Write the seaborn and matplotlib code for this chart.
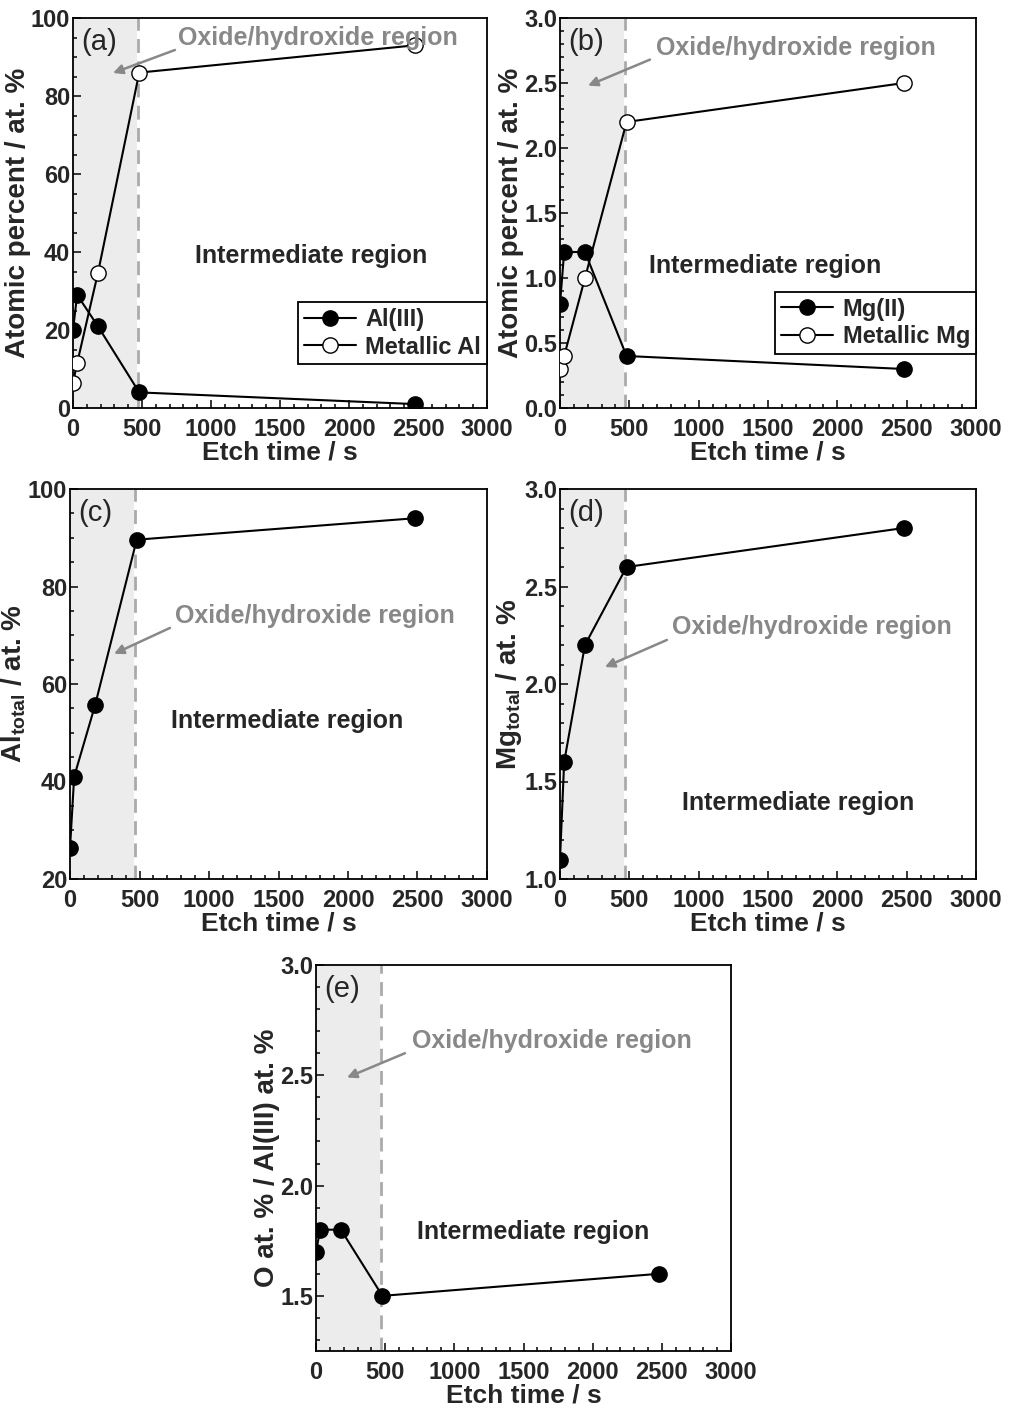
import matplotlib
matplotlib.use('Agg')
import matplotlib.pyplot as plt
import seaborn as sns
from matplotlib.ticker import MultipleLocator

sns.set_style('ticks')
plt.rcParams['font.family'] = ['Liberation Sans', 'DejaVu Sans']
plt.rcParams['mathtext.fontset'] = 'custom'
plt.rcParams['mathtext.rm'] = 'Liberation Sans:bold'
plt.rcParams['mathtext.it'] = 'Liberation Sans:bold'
plt.rcParams['mathtext.bf'] = 'Liberation Sans:bold'

# データ
etch_time = [0, 30, 180, 480, 2480]
al_iii = [20, 29, 21, 4, 1]
al_metal = [6.5, 11.5, 34.5, 86, 93]
mg_ii = [0.8, 1.2, 1.2, 0.4, 0.3]
mg_metal = [0.3, 0.4, 1.0, 2.2, 2.5]
al_total = [26.3, 41, 55.6, 89.6, 94]
mg_total = [1.1, 1.6, 2.2, 2.6, 2.8]
o_al_ratio = [1.7, 1.8, 1.8, 1.5, 1.6]

W, H = 1009, 1418
fig = plt.figure(figsize=(W / 100, H / 100), dpi=100)


def make_ax(x0, y0, x1, y1):
    return fig.add_axes([x0 / W, 1 - y1 / H, (x1 - x0) / W, (y1 - y0) / H])


def style_ax(ax, ylim, ymaj, ymin, ylabel, tag):
    ax.set_xlim(0, 3000)
    ax.set_ylim(*ylim)
    ax.axvspan(0, 462, color='#ececec', zorder=0, lw=0)
    ax.axvline(470, color='#aaaaaa', lw=2, ls=(0, (5, 3)), zorder=1)
    ax.xaxis.set_major_locator(MultipleLocator(500))
    ax.xaxis.set_minor_locator(MultipleLocator(100))
    ax.yaxis.set_major_locator(MultipleLocator(ymaj))
    ax.yaxis.set_minor_locator(MultipleLocator(ymin))
    ax.tick_params(which='both', direction='in', top=False, right=False,
                   labelsize=17, width=1.3)
    ax.tick_params(which='major', length=6)
    ax.tick_params(axis='x', which='major', pad=7)
    ax.tick_params(axis='y', which='major', pad=2)
    ax.tick_params(which='minor', length=3)
    for lab in ax.get_xticklabels() + ax.get_yticklabels():
        lab.set_fontweight('bold')
    for s in ax.spines.values():
        s.set_linewidth(1.3)
        s.set_color('black')
    ax.set_xlabel('Etch time / s', fontsize=19, fontweight='bold', labelpad=0)
    ax.set_ylabel(ylabel, fontsize=20, fontweight='bold', labelpad=0)
    ax.text(0.02, 0.975, tag, transform=ax.transAxes, fontsize=21,
            va='top', ha='left')


def series(ax, y, filled=True, label=None):
    sns.lineplot(x=etch_time, y=y, ax=ax, color='black', lw=1.5,
                 marker='o', markersize=11, mec='black',
                 mfc='black' if filled else 'white', mew=1,
                 label=label, legend=False, zorder=3)


def notes(ax, txt_xy, start_xy, tip_xy, mid_xy):
    ax.annotate('', xy=tip_xy, xytext=start_xy,
                arrowprops=dict(arrowstyle='-|>', color='#888888', lw=1.8,
                                shrinkA=0, shrinkB=0, mutation_scale=14))
    ax.text(*txt_xy, 'Oxide/hydroxide region', color='#888888', fontsize=18,
            fontweight='bold', va='center', ha='left')
    ax.text(*mid_xy, 'Intermediate region', fontsize=18, fontweight='bold',
            ha='center', va='center')


def legend(ax, top):
    leg = ax.legend(loc='upper right', bbox_to_anchor=(1.0, top),
                    borderaxespad=0, fancybox=False, edgecolor='black',
                    framealpha=1, handlelength=2.2, handletextpad=0.4,
                    prop={'weight': 'bold', 'size': 17}, borderpad=0.25,
                    labelspacing=0.2)
    leg.get_frame().set_linewidth(1.3)


# (a)
ax = make_ax(73, 18, 487, 408)
style_ax(ax, (0, 100), 20, 5, 'Atomic percent / at. %', '(a)')
series(ax, al_iii, True, 'Al(III)')
series(ax, al_metal, False, 'Metallic Al')
notes(ax, (760, 95), (739, 91.8), (290, 85.9), (1725, 39))
legend(ax, 0.272)

# (b)
ax = make_ax(560, 18, 976, 408)
style_ax(ax, (0, 3.0), 0.5, 0.1, 'Atomic percent / at. %', '(b)')
series(ax, mg_ii, True, 'Mg(II)')
series(ax, mg_metal, False, 'Metallic Mg')
notes(ax, (692, 2.77), (649, 2.68), (202, 2.48), (1480, 1.09))
legend(ax, 0.298)

# (c)
ax = make_ax(70, 489, 487, 879)
style_ax(ax, (20, 100), 20, 5, r'Al$_{\rm total}$ / at. %', '(c)')
series(ax, al_total)
notes(ax, (755, 73.9), (719, 71.5), (317, 66.2), (1560, 52.5))

# (d)
ax = make_ax(560, 489, 976, 879)
style_ax(ax, (1.0, 3.0), 0.5, 0.1, r'Mg$_{\rm total}$ / at. %', '(d)')
series(ax, mg_total)
notes(ax, (807, 2.29), (771, 2.226), (324, 2.087), (1720, 1.39))

# (e)
ax = make_ax(316, 965, 731, 1351)
style_ax(ax, (1.25, 3.0), 0.5, 0.1, 'O at. % / Al(III) at. %', '(e)')
series(ax, o_al_ratio)
notes(ax, (694, 2.655), (643, 2.60), (224, 2.49), (1570, 1.79))

fig.savefig('out.png', dpi=100)
